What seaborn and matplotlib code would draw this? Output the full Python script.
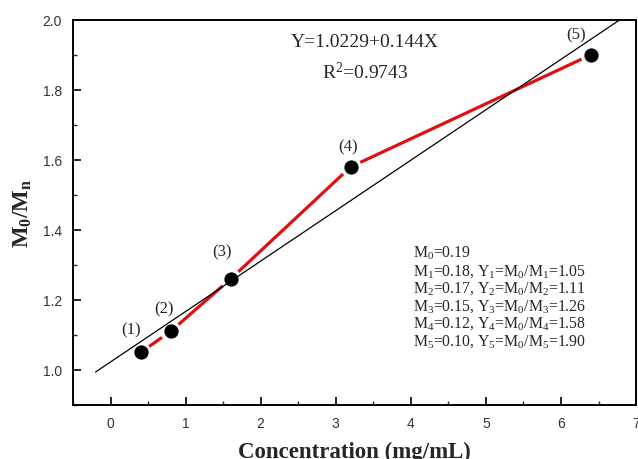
import numpy as np
import pandas as pd
import matplotlib
matplotlib.use("Agg")
import matplotlib.pyplot as plt
import seaborn as sns
from matplotlib.ticker import MultipleLocator

# Data
conc = [0.4, 0.8, 1.6, 3.2, 6.4]
ratio = [1.05, 1.11, 1.26, 1.58, 1.90]
point_labels = ["(1)", "(2)", "(3)", "(4)", "(5)"]
fit_intercept = 1.0229
fit_slope = 0.144
fit_x_range = [-0.2, 7.0]
info_lines = [
    r"M$_0$=0.19",
    r"M$_1$=0.18, Y$_1$=M$_0$/M$_1$=1.05",
    r"M$_2$=0.17, Y$_2$=M$_0$/M$_2$=1.11",
    r"M$_3$=0.15, Y$_3$=M$_0$/M$_3$=1.26",
    r"M$_4$=0.12, Y$_4$=M$_0$/M$_4$=1.58",
    r"M$_5$=0.10, Y$_5$=M$_0$/M$_5$=1.90",
]

sns.set_theme(style="ticks")
plt.rcParams["font.family"] = ["Liberation Sans", "DejaVu Sans"]
plt.rcParams["mathtext.fontset"] = "custom"
plt.rcParams["mathtext.rm"] = "Liberation Serif"
plt.rcParams["mathtext.it"] = "Liberation Serif:italic"
plt.rcParams["mathtext.bf"] = "Liberation Serif:bold"

df = pd.DataFrame({"conc": conc, "ratio": ratio})
fx = np.array(fit_x_range)
fit_df = pd.DataFrame({"x": fx, "y": fit_intercept + fit_slope * fx})

fig = plt.figure(figsize=(6.38, 4.6), dpi=100)
ax = fig.add_axes([0.1144, 0.1174, 0.8826, 0.8376])

sns.lineplot(data=df, x="conc", y="ratio", ax=ax, color="#e01010", lw=2.3, zorder=2)
# white halo so the red line stops short of the markers
sns.scatterplot(data=df, x="conc", y="ratio", ax=ax, color="white", s=230,
                edgecolor="none", linewidth=0, zorder=2.5)
sns.lineplot(data=fit_df, x="x", y="y", ax=ax, color="black", lw=0.9, zorder=3)
sns.scatterplot(data=df, x="conc", y="ratio", ax=ax, color="black", s=90,
                edgecolor="black", zorder=4)

offsets = [(-6.5, 16.5), (-5, 16.5), (-6.5, 19.5), (-2, 15), (-11, 14.5)]
for xv, yv, lab, off in zip(conc, ratio, point_labels, offsets):
    ax.annotate(lab, (xv, yv), xytext=off, textcoords="offset points",
                ha="center", va="center", fontsize=12, family="Liberation Serif")

ax.text(3.39, 1.939, "Y=1.0229+0.144X", fontsize=14, family="Liberation Serif",
        ha="center", va="center")
ax.text(3.39, 1.853, r"R$^2$=0.9743", fontsize=14, family="Liberation Serif",
        ha="center", va="center")

y0 = 1.335
for i, line in enumerate(info_lines):
    ax.text(4.03, y0 - i * 0.05, line, fontsize=11.3, family="Liberation Serif",
            ha="left", va="center")

ax.set_xlim(-0.5, 7.0)
ax.set_ylim(0.9, 2.0)
ax.xaxis.set_major_locator(MultipleLocator(1))
ax.xaxis.set_minor_locator(MultipleLocator(0.5))
ax.yaxis.set_major_locator(MultipleLocator(0.2))
ax.yaxis.set_minor_locator(MultipleLocator(0.1))
ax.set_xticks(range(0, 8))
ax.set_yticks([1.0, 1.2, 1.4, 1.6, 1.8, 2.0])
ax.set_yticklabels(["1.0", "1.2", "1.4", "1.6", "1.8", "2.0"])
ax.tick_params(which="major", direction="in", length=6, width=1.2,
               labelsize=10, colors="black", labelcolor="#333333", pad=8)
ax.tick_params(which="minor", direction="in", length=3, width=1.0)
ax.tick_params(top=False, right=False, which="both")
for sp in ax.spines.values():
    sp.set_linewidth(1.4)
    sp.set_color("black")

ax.set_xlabel("Concentration (mg/mL)", fontsize=16.5, family="Liberation Serif",
              fontweight="bold", labelpad=8)
ax.set_ylabel(r"$\mathbf{M_0/M_n}$", fontsize=16.5, labelpad=6)

fig.savefig("out.png", dpi=100)
